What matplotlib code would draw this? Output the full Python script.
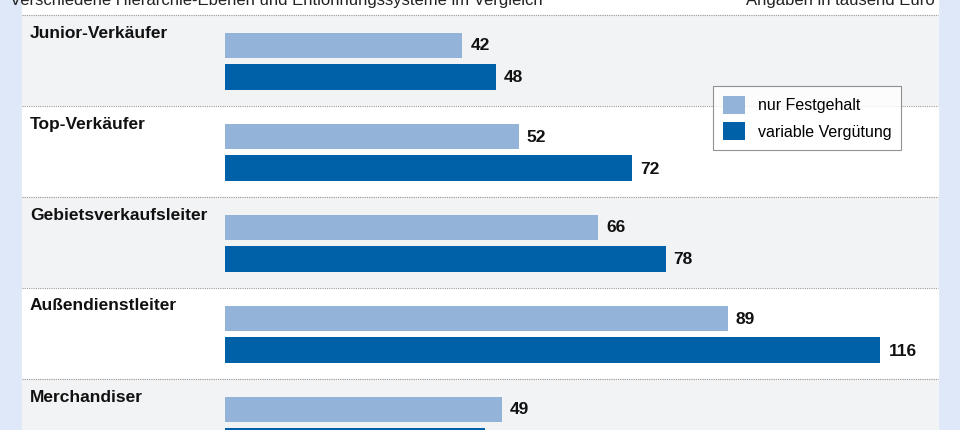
import matplotlib
matplotlib.use("Agg")
import matplotlib.pyplot as plt
from matplotlib.patches import Patch
from matplotlib import font_manager

categories = ["Junior-Verkäufer", "Top-Verkäufer", "Gebietsverkaufsleiter", "Außendienstleiter", "Merchandiser"]
festgehalt = [42, 52, 66, 89, 49]
variabel = [48, 72, 78, 116, 46]
series_names = ["nur Festgehalt", "variable Vergütung"]
title_left = "Verschiedene Hierarchie-Ebenen und Entlohnungssysteme im Vergleich"
title_right = "Angaben in tausend Euro"

names = {f.name for f in font_manager.fontManager.ttflist}
fam = "Liberation Sans Narrow" if "Liberation Sans Narrow" in names else "Liberation Sans"
plt.rcParams["font.family"] = fam

W, H = 960, 430
ppu = 5.65
x0 = 225
fig = plt.figure(figsize=(9.6, 4.3), dpi=100)
fig.patch.set_facecolor("#dfe8f8")
ax = fig.add_axes([0, 0, 1, 1])
ax.set_xlim(-x0 / ppu, (W - x0) / ppu)
ax.set_ylim(H, 0)
ax.axis("off")

row_h = 91
top0 = 15
light, dark = "#94b3d9", "#0060a8"
L, R = 22 / W, 938 / W
ax.axhspan(0, top0, xmin=L, xmax=R, color="white", zorder=0)
for i, cat in enumerate(categories):
    rt = top0 + i * row_h
    ax.axhspan(rt, rt + row_h, xmin=L, xmax=R, color="#f2f3f5" if i % 2 == 0 else "white", zorder=0)
    ax.axhline(rt, xmin=L, xmax=R, color="#999999", lw=0.8, ls=(0, (1, 1)), zorder=1)
    ax.text(30 / ppu - x0 / ppu, rt + 18, cat, fontsize=12.5, fontweight="bold", va="center", ha="left", color="#111111")
    yl, yd = rt + 30, rt + 62
    ax.barh(yl, festgehalt[i], height=25, left=0, color=light, zorder=2)
    ax.barh(yd, variabel[i], height=26, left=0, color=dark, zorder=2)
    ax.text(festgehalt[i] + 8 / ppu, yl + 1, str(festgehalt[i]), fontsize=12.5, fontweight="bold", va="center", color="#111111")
    ax.text(variabel[i] + 8 / ppu, yd + 1, str(variabel[i]), fontsize=12.5, fontweight="bold", va="center", color="#111111")

ax.text(10 / ppu - x0 / ppu, 0, title_left, fontsize=12, va="center", ha="left", color="#222222")
ax.text(935 / ppu - x0 / ppu, 0, title_right, fontsize=12, va="center", ha="right", color="#222222")

handles = [Patch(facecolor=light), Patch(facecolor=dark)]
leg = fig.legend(handles, series_names, loc="upper left", bbox_to_anchor=(705 / W, 1 - 78 / H),
                 frameon=True, fancybox=False, fontsize=11.5, handlelength=1.4, handleheight=1.4,
                 borderpad=0.6, labelspacing=0.5, handletextpad=0.8)
leg.get_frame().set_edgecolor("#777777")
leg.get_frame().set_linewidth(0.8)

fig.savefig("out.png", dpi=100, facecolor=fig.get_facecolor())
